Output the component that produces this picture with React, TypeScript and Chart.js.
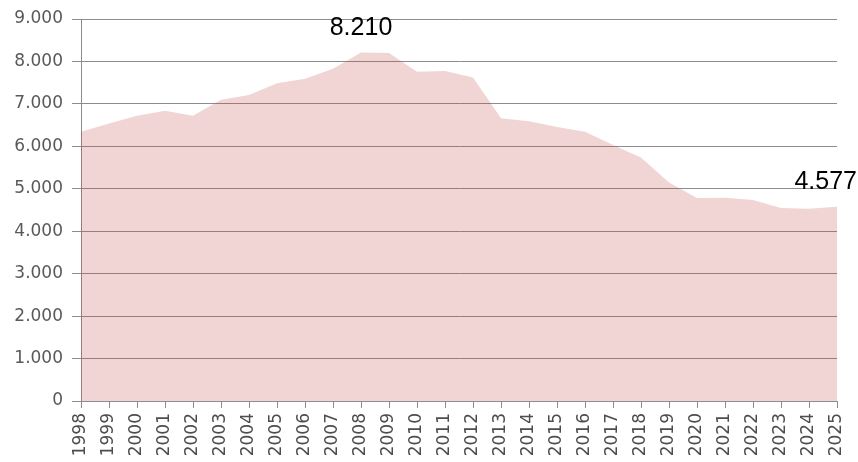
import React, { useEffect, useRef } from "react";
import { Chart, registerables } from "chart.js";

Chart.register(...registerables);

const years: string[] = [
  "1998", "1999", "2000", "2001", "2002", "2003", "2004", "2005", "2006", "2007",
  "2008", "2009", "2010", "2011", "2012", "2013", "2014", "2015", "2016", "2017",
  "2018", "2019", "2020", "2021", "2022", "2023", "2024", "2025",
];

const values: number[] = [
  6345, 6540, 6720, 6840, 6720, 7100, 7210, 7485, 7590, 7825,
  8210, 8200, 7760, 7775, 7620, 6660, 6590, 6455, 6345, 6030,
  5735, 5145, 4785, 4790, 4735, 4550, 4530, 4577,
];

const labelledYears: string[] = ["2008", "2025"];

const fmt = (v: number): string => {
  const s = Math.round(v).toString();
  return s.replace(/\B(?=(\d{3})+(?!\d))/g, ".");
};

const labelPlugin = {
  id: "pointLabels",
  afterDatasetsDraw(chart: any) {
    const ctx = chart.ctx;
    const meta = chart.getDatasetMeta(0);
    ctx.save();
    ctx.font = "25px 'Liberation Sans', Arial, sans-serif";
    ctx.fillStyle = "#000000";
    ctx.textAlign = "center";
    ctx.textBaseline = "bottom";
    labelledYears.forEach((y) => {
      const i = years.indexOf(y);
      if (i < 0) return;
      const pt = meta.data[i];
      const text = fmt(values[i]);
      const w = ctx.measureText(text).width;
      let x = pt.x;
      const maxX = chart.width - w / 2 - 1;
      if (x > maxX) x = maxX;
      ctx.fillText(text, x, pt.y - 12);
    });
    ctx.restore();
  },
};

export default function App() {
  const ref = useRef<HTMLCanvasElement | null>(null);

  useEffect(() => {
    if (!ref.current) return;
    const gridColor = "#8c8c8c";
    const chart = new Chart(ref.current, {
      type: "line",
      data: {
        labels: years,
        datasets: [
          {
            data: values,
            fill: "origin",
            backgroundColor: "rgba(192, 80, 77, 0.24)",
            borderWidth: 0,
            borderColor: "rgba(0,0,0,0)",
            pointRadius: 0,
            tension: 0,
          },
        ],
      },
      options: {
        animation: false,
        responsive: true,
        maintainAspectRatio: false,
        layout: { padding: { top: 19, right: 21, left: 0, bottom: 0 } },
        plugins: {
          legend: { display: false },
          tooltip: { enabled: false },
        },
        scales: {
          x: {
            type: "category",
            offset: false,
            grid: {
              drawOnChartArea: false,
              drawTicks: true,
              tickLength: 7,
              color: gridColor,
              offset: false,
            },
            border: { display: true, color: gridColor },
            ticks: {
              autoSkip: false,
              maxRotation: 90,
              minRotation: 90,
              padding: 5,
              color: "#4d4d4d",
              font: { family: "'DejaVu Sans', sans-serif", size: 17 },
            },
            afterFit: (scale: any) => {
              scale.height = 61;
              scale.paddingRight = 0;
              scale.paddingLeft = 0;
            },
          },
          y: {
            min: 0,
            max: 9000,
            grid: {
              color: gridColor,
              drawTicks: true,
              tickLength: 9,
            },
            border: { display: true, color: gridColor },
            ticks: {
              stepSize: 1000,
              padding: 9,
              color: "#595959",
              font: { family: "'DejaVu Sans', sans-serif", size: 17 },
              callback: (v: any) => fmt(Number(v)),
            },
            afterFit: (scale: any) => {
              scale.width = 81;
              scale.paddingTop = 0;
              scale.paddingBottom = 0;
            },
          },
        },
      },
      plugins: [labelPlugin],
    });
    return () => chart.destroy();
  }, []);

  return (
    <div style={{ position: "fixed", left: 0, top: 0, width: 858, height: 462, background: "#ffffff" }}>
      <canvas ref={ref} />
    </div>
  );
}
